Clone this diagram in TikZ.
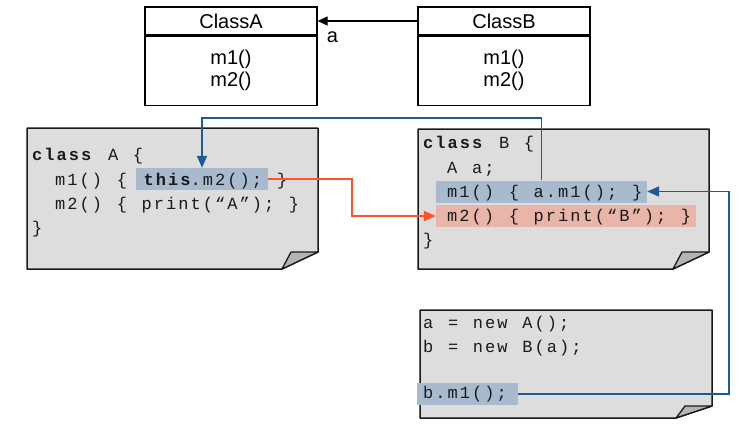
\documentclass[tikz,border=0pt]{standalone}
\usepackage{fontspec}
\setmainfont{Liberation Sans}
\newfontfamily\codefont[LetterSpace=12,WordSpace=1.2]{Liberation Mono}
\usetikzlibrary{arrows.meta,positioning}
\definecolor{notegray}{HTML}{DDDDDD}
\definecolor{flapgray}{HTML}{B4B4B4}
\definecolor{hlblue}{HTML}{A8BBCE}
\definecolor{hlred}{HTML}{E8B5A8}
\definecolor{linkblue}{HTML}{1F5A96}
\definecolor{linkred}{HTML}{FF5326}
\definecolor{codeink}{HTML}{1A1A1A}
\tikzset{
  umlhead/.style={draw,line width=1.3pt,minimum width=172pt,minimum height=28pt,inner sep=0pt,font=\fontsize{20}{22}\selectfont},
  umlbody/.style={umlhead,minimum height=69pt,align=center},
  note/.style={fill=notegray,draw=codeink,line width=1.5pt,line join=round},
  flap/.style={fill=flapgray,draw=codeink,line width=1.3pt,line join=round},
  hlb/.style={fill=hlblue,inner sep=0pt,minimum height=22pt},
  hlr/.style={fill=hlred,inner sep=0pt,minimum height=22pt},
  code/.style={anchor=base west,inner sep=0pt,text=codeink,font=\codefont\fontsize{17}{17}\selectfont},
  bluelink/.style={draw=linkblue,line width=1.8pt,-{Triangle[length=12pt,width=10pt]}},
  redlink/.style={draw=linkred,line width=1.9pt,-{Triangle[length=12pt,width=10pt]}}
}
\begin{document}
\begin{tikzpicture}[x=1pt,y=-1pt]
\useasboundingbox (0,0) rectangle (747,429);
% class diagram
\node[umlhead] (headA) at (231,21) {ClassA};
\node[umlbody,below=0pt of headA] (bodyA) {m1()\\m2()};
\node[umlhead] (headB) at (504,21) {ClassB};
\node[umlbody,below=0pt of headB] (bodyB) {m1()\\m2()};
\draw[line width=1.3pt,-{Triangle[length=10pt,width=9pt]}] (headB.west) -- (headA.east);
\node[font=\fontsize{20}{22}\selectfont,anchor=north west,inner sep=0pt] (rolea) at ([xshift=9pt,yshift=-11pt]headA.east) {a};
% notes with folded corner
\foreach \l/\t/\r/\b/\f in {27/128/318/269/17,418/129/709/269/17,420/310/712/418/12}{
  \draw[note] (\l,\t) -- (\r,\t) -- (\r,\b-\f) -- (\r-36,\b) -- (\l,\b) -- cycle;
  \draw[flap] (\r-36,\b) -- (\r-27,\b-\f) -- (\r,\b-\f) -- cycle;
}
% highlights
\node[hlb,minimum width=132pt] (thisA) at (202,179) {};
\node[hlb,minimum width=211pt] (callB) at (541.5,191.5) {};
\node[hlr,minimum width=260pt] (printB) at (566,216) {};
\node[hlb,minimum width=101pt] (callMain) at (467.5,394) {};
% code lines
\node[code] (a1) at (32,160) {\textbf{class} A \{};
\node[code] (a2) at (55,185) {m1() \{ \textbf{this}.m2(); \}};
\node[code] (a3) at (55,209) {m2() \{ print(“A”); \}};
\node[code] (a4) at (32,233) {\}};
\node[code] (b1) at (423,148) {\textbf{class} B \{};
\node[code] (b2) at (447,173) {A a;};
\node[code] (b3) at (447,197) {m1() \{ a.m1(); \}};
\node[code] (b4) at (447,221) {m2() \{ print(“B”); \}};
\node[code] (b5) at (423,245) {\}};
\node[code] (c1) at (423,328) {a = new A();};
\node[code] (c2) at (423,352) {b = new B(a);};
\node[code] (c3) at (423,398) {b.m1();};
% calls
\draw[bluelink] (callB.north) -- ++(0,-62) -| (thisA.north);
\draw[redlink] (thisA.east) -- ++(84,0) |- (printB.west);
\draw[bluelink] (callMain.east) -- ++(211,0) |- (callB.east);
\end{tikzpicture}
\end{document}
